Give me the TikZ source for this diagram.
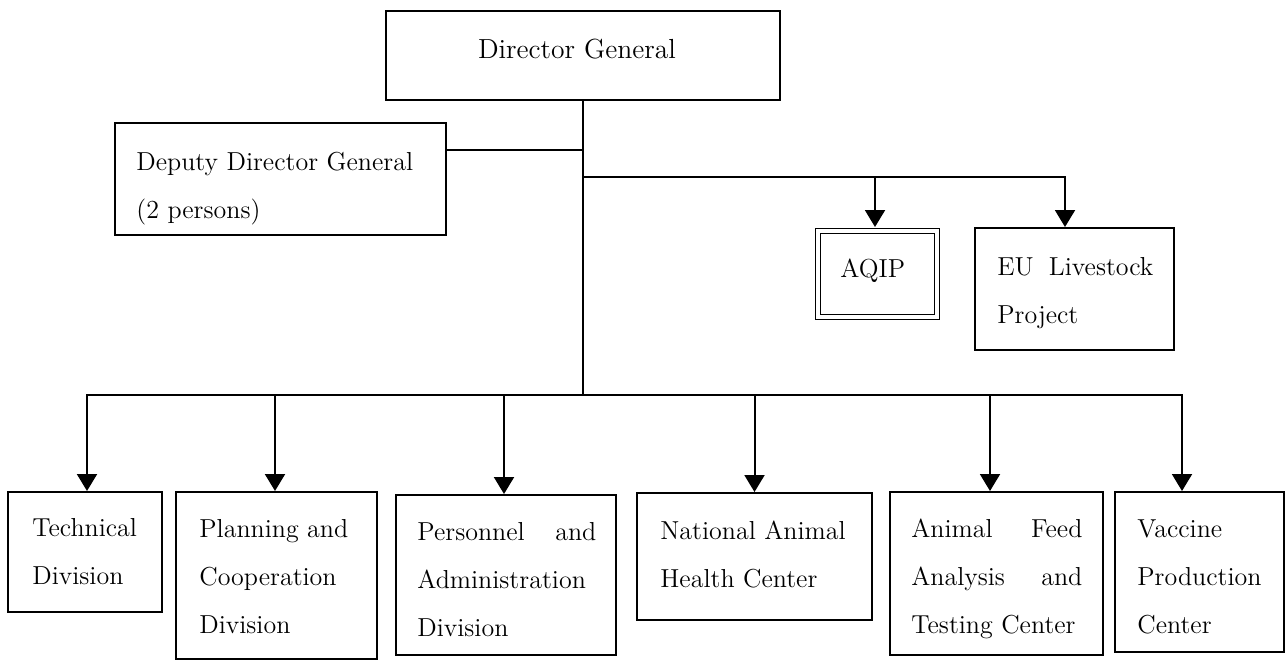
\documentclass[tikz,border=0pt]{standalone}
\usepackage{fontspec}
\usetikzlibrary{arrows.meta}
\begin{document}
\begin{tikzpicture}[x=0.5pt,y=-0.5pt,
  box/.style={draw,line width=1pt,inner sep=0pt},
  lbl/.style={anchor=base west,inner sep=0pt,align=left,font=\fontsize{13}{24}\selectfont},
  conn/.style={line width=1pt,line cap=rect},
  arr/.style={line width=1pt,line cap=rect,-{Triangle[length=8.5pt,width=10pt]}}]
\useasboundingbox (0,0) rectangle (1286,661);
% boxes
\node[box,minimum width=197pt,minimum height=44.5pt] (dg) at (583,55.5) {};
\node[box,minimum width=165.5pt,minimum height=56pt] (dep) at (280.5,179) {};
\node[box,double,double distance=1.6pt,line width=0.8pt,minimum width=59.5pt,minimum height=43pt] (aqip) at (877.5,274) {};
\node[box,minimum width=99.5pt,minimum height=61pt] (eu) at (1074.5,289) {};
\node[box,minimum width=77pt,minimum height=60pt] (tech) at (85,552) {};
\node[box,minimum width=100.5pt,minimum height=83.5pt] (plan) at (276.5,575.5) {};
\node[box,minimum width=110pt,minimum height=80pt] (pers) at (506,575) {};
\node[box,minimum width=117.5pt,minimum height=63.5pt] (nat) at (754.5,556.5) {};
\node[box,minimum width=106.5pt,minimum height=81.5pt] (feed) at (996.5,573.5) {};
\node[box,minimum width=84.5pt,minimum height=80pt] (vac) at (1199.5,572) {};
% texts (base = baseline of the last line)
\node[lbl,anchor=base,font=\fontsize{13.8}{24}\selectfont] (tdg) at (577,58) {Director General};
\node[lbl] (tdep) at (136,218) {Deputy Director General\\(2 persons)};
\node[lbl] (taqip) at (840,277) {AQIP};
\node[lbl] (teu) at (997,323) {\makebox[78pt][s]{EU Livestock}\\Project};
\node[lbl] (ttech) at (32,584) {Technical\\Division};
\node[lbl] (tplan) at (199,633) {Planning and\\Cooperation\\Division};
\node[lbl] (tpers) at (417,636) {\makebox[89.5pt][s]{Personnel and}\\Administration\\Division};
\node[lbl] (tnat) at (660,587) {National Animal\\Health Center};
\node[lbl] (tfeed) at (911,633) {\makebox[85.5pt][s]{Animal Feed}\\\makebox[85.5pt][s]{Analysis and}\\Testing Center};
\node[lbl] (tvac) at (1137,633) {Vaccine\\Production\\Center};
% connector points
\coordinate (bus) at (583,395);
\coordinate (ubus) at (583,177);
\coordinate (depc) at ([yshift=14.5pt]dep.east);
\coordinate (aA) at ([xshift=-1.25pt,yshift=1.6pt]aqip.north);
\coordinate (aE) at ([xshift=-4.75pt]eu.north);
\coordinate (aT) at ([xshift=1pt]tech.north);
\coordinate (aP) at ([xshift=-0.75pt]plan.north);
\coordinate (aS) at ([xshift=-1pt]pers.north);
\coordinate (aN) at (nat.north);
\coordinate (aF) at ([xshift=-3.25pt]feed.north);
\coordinate (aV) at ([xshift=-8.75pt]vac.north);
% connectors
\draw[conn] (dg.south) -- (bus);
\draw[conn] (depc) -- (depc -| dg.south);
\draw[conn] (ubus) -- (aE |- ubus);
\draw[arr] (aA |- ubus) -- (aA);
\draw[arr] (aE |- ubus) -- (aE);
\draw[conn] (aT |- bus) -- (aV |- bus);
\foreach \a in {aT,aP,aS,aN,aF,aV} \draw[arr] (\a |- bus) -- (\a);
\end{tikzpicture}
\end{document}
